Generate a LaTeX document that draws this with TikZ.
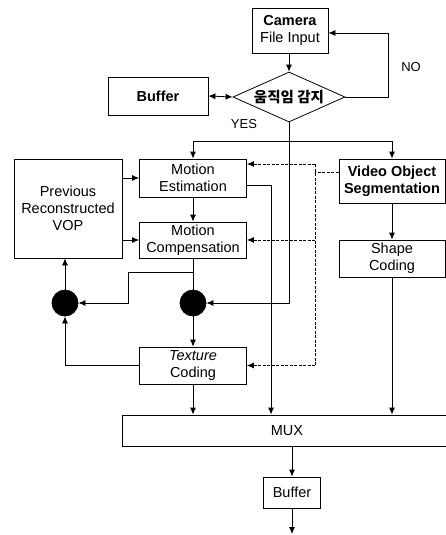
\documentclass[tikz,border=0pt]{standalone}
\usepackage{fontspec}
\setmainfont{Liberation Sans}
\newfontfamily\ko{Noto Sans CJK KR}
\usetikzlibrary{arrows.meta,shapes.geometric,calc}
\tikzset{
  box/.style={draw,line width=0.8pt,inner sep=0pt,align=center,font=\fontsize{14.5}{17}\selectfont},
  dot/.style={circle,fill=black,draw,minimum size=26pt,inner sep=0pt},
  arr/.style={-{Latex[length=7pt,width=6pt]}},
  darr/.style={{Latex[length=7pt,width=6pt]}-{Latex[length=7pt,width=6pt]}},
  dsh/.style={dash pattern=on 3pt off 1.5pt},
  lbl/.style={font=\fontsize{13}{15}\selectfont,inner sep=0pt},
}
\begin{document}
\begin{tikzpicture}[x=1pt,y=-1pt,line width=0.8pt]
\useasboundingbox (0,0) rectangle (446,535);
\clip (0,0) rectangle (446,535);
% nodes
\node[box,minimum width=76pt,minimum height=45pt] (cam) at (290,30.5) {\textbf{Camera}\\File Input};
\node[diamond,draw,line width=0.8pt,minimum width=112pt,minimum height=50pt,inner sep=0pt,
      label={center:{\ko\bfseries\fontsize{14.5}{17}\selectfont 움직임 감지}}] (dia) at (289,97) {};
\node[box,minimum width=100pt,minimum height=38pt] (buf1) at (158,96) {\textbf{Buffer}};
\node[box,minimum width=108pt,minimum height=99pt] (prv) at (68,208.5) {Previous\\Reconstructed\\VOP};
\node[box,minimum width=107pt,minimum height=38pt] (me) at (193,178) {Motion\\Estimation};
\node[box,minimum width=107pt,minimum height=36pt] (mc) at (193,240) {Motion\\Compensation};
\node[box,minimum width=107pt,minimum height=37pt] (tc) at (193,365.5) {\textit{Texture}\\Coding};
\node[box,minimum width=106pt,minimum height=44pt] (vos) at (392,181) {\textbf{Video Object}\\\textbf{Segmentation}};
\node[box,minimum width=106pt,minimum height=37pt] (sc) at (392,258.5) {Shape\\Coding};
\node[box,minimum width=330pt,minimum height=31pt] (mux) at (287,430.5) {MUX};
\node[box,minimum width=57pt,minimum height=31pt] (buf2) at (292,492.5) {Buffer};
\node[dot] (c1) at (65,303) {};
\node[dot] (c2) at (193,303) {};
\node[lbl] (no) at (411,67) {NO};
\node[lbl] (yes) at (244,124) {YES};
% coordinates
\coordinate (noc) at (388,33);
\coordinate (yb) at (289,141);
\coordinate (x271) at (271,0);
\coordinate (d1) at (315,164);
\coordinate (d2) at (315,365.5);
\coordinate (b1) at (193,272);
\coordinate (b2) at (128,272);
\coordinate (out) at (292,534);
% connectors
\draw[arr] (cam.south -| dia.north) -- (dia.north);
\draw[arr] (dia.east) -| (noc) -- (noc -| cam.east);
\draw[darr] (buf1.east) -- (dia.west);
\draw[arr] (dia.south) |- (c2.east);
\draw[arr] (yb) -| (me.north);
\draw[arr] (yb) -| (vos.north);
\draw[arr] (prv.east |- me.west) -- (me.west);
\draw[arr] (prv.east |- mc.west) -- (mc.west);
\draw[arr] (me.south) -- (mc.north);
\draw[arr] ($(me.east)+(0,7)$) -| (x271 |- mux.north);
\draw[dsh] ($(vos.west)+(0,-9)$) -- ($(vos.west)+(-24,-9)$);
\draw[dsh] (d1) -- (d2);
\draw[dsh,arr] (d1) -- (d1 -| me.east);
\draw[dsh,arr] (d1 |- mc.east) -- (mc.east);
\draw[dsh,arr] (d2) -- (tc.east);
\draw (mc.south) -- (c2.north);
\draw[arr] (b1) -- (b2) |- (c1.east);
\draw[arr] (c1.north) -- (c1.north |- prv.south);
\draw[arr] (c2.south) -- (tc.north);
\draw[arr] (tc.west) -| (c1.south);
\draw[arr] (tc.south) -- (tc.south |- mux.north);
\draw[arr] (vos.south) -- (sc.north);
\draw[arr] (sc.south) -- (sc.south |- mux.north);
\draw[arr] (buf2.north |- mux.south) -- (buf2.north);
\draw[arr] (buf2.south) -- (out);
\end{tikzpicture}
\end{document}
